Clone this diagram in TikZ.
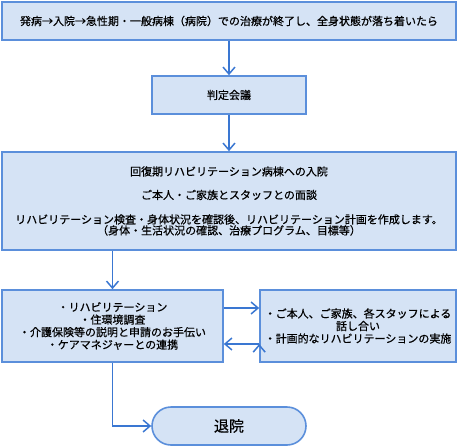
\documentclass[tikz,border=0pt]{standalone}
\usepackage{fontspec}
\newfontfamily\jpfont[FakeBold=0.6]{Noto Sans CJK JP}
\usepackage{tikz}
\usetikzlibrary{arrows.meta}
\definecolor{boxfill}{HTML}{D5E3F5}
\definecolor{boxline}{HTML}{5B8FDB}
\definecolor{flowline}{HTML}{3A77D2}

\begin{document}
\begin{tikzpicture}[x=1pt,y=-1pt,>={Straight Barb[length=7pt,width=12pt,line width=1.5pt]},
	box/.style={draw=boxline,fill=boxfill,line width=1.6pt,inner sep=0pt,align=center,
		font=\jpfont\fontsize{11}{12.5}\selectfont},
	flow/.style={draw=flowline,line width=1.6pt}]
	\useasboundingbox (0,0) rectangle (458,447);
	\node[box,minimum width=454pt,minimum height=38pt] (onset) at (229,21)
		{発病→入院→急性期・一般病棟（病院）での治療が終了し、全身状態が落ち着いたら};
	\node[box,minimum width=154pt,minimum height=38pt] (judge) at (229,95) {判定会議};
	\node[box,minimum width=454pt,minimum height=98pt] (admit) at (229,201)
		{回復期リハビリテーション病棟への入院\\[11pt]
		ご本人・ご家族とスタッフとの面談\\[12pt]
		リハビリテーション検査・身体状況を確認後、リハビリテーション計画を作成します。\\[-1.5pt]
		（身体・生活状況の確認、治療プログラム、目標等）};
	\node[box,minimum width=221pt,minimum height=72pt] (support) at (112.5,326)
		{・リハビリテーション\\
		・住環境調査\\
		・介護保険等の説明と申請のお手伝い\\
		・ケアマネジャーとの連携};
	\node[box,minimum width=196pt,minimum height=72pt] (talk) at (358,326)
		{・ご本人、ご家族、各スタッフによる\\
		話し合い\\
		・計画的なリハビリテーションの実施};
	\node[box,minimum width=154pt,minimum height=38pt,rounded corners=19pt,
		font=\jpfont\fontsize{15}{18}\selectfont] (leave) at (229,426) {退院};
	\path[flow,->] (onset) edge (judge)
		(judge) edge (admit)
		(support.north |- admit.south) edge (support.north)
		([yshift=18pt]support.east) edge ([yshift=18pt]support.east -| talk.west)
		([yshift=-18pt]talk.west) edge ([yshift=-18pt]talk.west -| support.east);
	\draw[flow,->] (support.south) |- (leave.west);
\end{tikzpicture}
\end{document}
